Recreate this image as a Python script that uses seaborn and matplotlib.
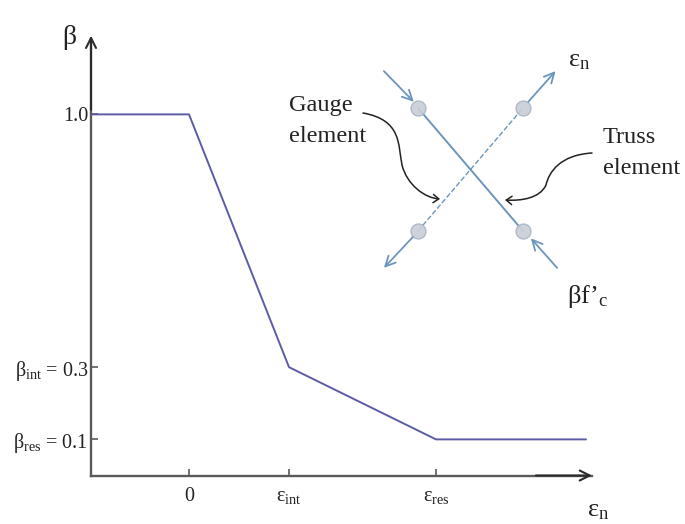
import numpy as np
import pandas as pd
import seaborn as sns
import matplotlib.pyplot as plt
from matplotlib.patches import FancyArrowPatch
from matplotlib.path import Path

# curva beta - deformacion
strain = [-0.98, 0.0, 1.0, 2.47, 3.97]
beta = [1.0, 1.0, 0.3, 0.1, 0.1]
x_ticks = [0.0, 1.0, 2.47]
x_labels = ['0', r'$\mathrm{ε_{int}}$', r'$\mathrm{ε_{res}}$']
y_ticks = [0.1, 0.3, 1.0]
y_labels = [r'$\mathrm{β_{res}}$ = 0.1', r'$\mathrm{β_{int}}$ = 0.3', '1.0']

# esquema del elemento (coordenadas del esquema)
node_x = [-1, 1, -1, 1]
node_y = [1, 1, -1, -1]
truss_x = [-1, 1]
truss_y = [1, -1]
gauge_x = [-1, 1]
gauge_y = [-1, 1]

W, H = 685, 524
LINE = '#5c5ca6'
AXIS = '#5a5a5a'
DARK = '#2b2b2b'
BLUE = '#6b95bd'

sns.set_theme(style='white')
plt.rcParams['font.family'] = ['Liberation Serif', 'DejaVu Serif']
plt.rcParams['mathtext.fontset'] = 'custom'
plt.rcParams['mathtext.rm'] = 'Liberation Serif'
plt.rcParams['mathtext.default'] = 'regular'


def px(x, y):
    return x / W, 1 - y / H


def box(left, top, right, bottom):
    return [left / W, 1 - bottom / H, (right - left) / W, (bottom - top) / H]


fig = plt.figure(figsize=(W / 100, H / 100), dpi=100, facecolor='white')

# grafico principal
ax = fig.add_axes(box(91, 40, 592, 475.5))
df = pd.DataFrame({'strain': strain, 'beta': beta})
sns.lineplot(data=df, x='strain', y='beta', color=LINE, linewidth=1.4,
             sort=False, errorbar=None, ax=ax)
ax.set_xlim(-0.98, 4.03)
ax.set_ylim(0, 1.206)
ax.set_xticks(x_ticks, x_labels)
ax.set_yticks(y_ticks, y_labels)
ax.set_xlabel('')
ax.set_ylabel('')
ax.tick_params(axis='both', direction='in', length=5, width=1.2, color=AXIS,
               labelcolor='#222222', labelsize=14.5, pad=8, bottom=True, left=True)
ax.tick_params(axis='y', pad=2)
sns.despine(ax=ax)
for side in ['left', 'bottom']:
    ax.spines[side].set_color(AXIS)
    ax.spines[side].set_linewidth(1.7)

# puntas de flecha de los ejes
ax.annotate('', xy=(0, 1.01), xytext=(0, 0.84), xycoords='axes fraction',
            arrowprops=dict(arrowstyle='->,head_length=0.6,head_width=0.3', color=DARK,
                            lw=1.5, shrinkA=0, shrinkB=0))
ax.annotate('', xy=(1.0, 0), xytext=(0.888, 0), xycoords='axes fraction',
            arrowprops=dict(arrowstyle='->,head_length=0.6,head_width=0.3', color=DARK,
                            lw=1.5, shrinkA=0, shrinkB=0))

# esquema: nodos, elemento de celosia y elemento de galga
inset = fig.add_axes(box(365.5, 46.5, 575.5, 292.5))
inset.set_xlim(-2, 2)
inset.set_ylim(-2, 2)
inset.axis('off')
inset.patch.set_alpha(0)
sns.lineplot(x=truss_x, y=truss_y, color=BLUE, linewidth=1.4, sort=False,
             errorbar=None, ax=inset)
sns.lineplot(x=gauge_x, y=gauge_y, color=BLUE, linewidth=1.0, linestyle='--', sort=False,
             errorbar=None, ax=inset)
sns.scatterplot(x=node_x, y=node_y, s=115, color='#c9cfd8', edgecolor='#aab5c4',
                linewidth=1, zorder=3, alpha=0.9, ax=inset)

# flechas azules del esquema
blue_arrows = [
    ((-1.65, 1.6), (-1.08, 1.1)),
    ((1.1, 1.1), (1.62, 1.6)),
    ((-1.1, -1.1), (-1.65, -1.6)),
    ((1.65, -1.6), (1.15, -1.12)),
]
for start, end in blue_arrows:
    inset.annotate('', xy=end, xytext=start,
                   arrowprops=dict(arrowstyle='->,head_length=0.6,head_width=0.3',
                                   color=BLUE, lw=1.3, shrinkA=0, shrinkB=0))

# flechas curvas negras
curves = [
    [(363, 113), (402, 120), (398, 145), (402, 165), (407, 185), (425, 198), (440, 199)],
    [(592, 153), (560, 155), (549, 172), (546, 185), (540, 198), (522, 201), (505, 200)],
]
for pts in curves:
    verts = [px(*p) for p in pts]
    codes = [Path.MOVETO] + [Path.CURVE4] * 6
    fig.add_artist(FancyArrowPatch(path=Path(verts, codes), transform=fig.transFigure,
                                   arrowstyle='->,head_length=4,head_width=3',
                                   color='#222222', lw=1.1))

# textos
labels = [
    ('Gauge', 289, 105, 17.5),
    ('element', 289, 136, 17.5),
    ('Truss', 603, 138, 17.5),
    ('element', 603, 168, 17.5),
]
for txt, x, y, size in labels:
    fig.text(*px(x, y), txt, ha='left', va='center', fontsize=size, color='#222222')
fig.text(*px(568, 61), r'$\mathrm{ε_n}$', ha='left', va='center', fontsize=19, color='#222222')
fig.text(*px(567, 297), r'$\mathrm{βf’_c}$', ha='left', va='center', fontsize=19, color='#222222')
fig.text(*px(69, 38), 'β', ha='center', va='center', fontsize=20, color='#222222')
fig.text(*px(598, 511), r'$\mathrm{ε_n}$', ha='center', va='center', fontsize=19, color='#222222')

fig.savefig('out.png', dpi=100, facecolor='white')
